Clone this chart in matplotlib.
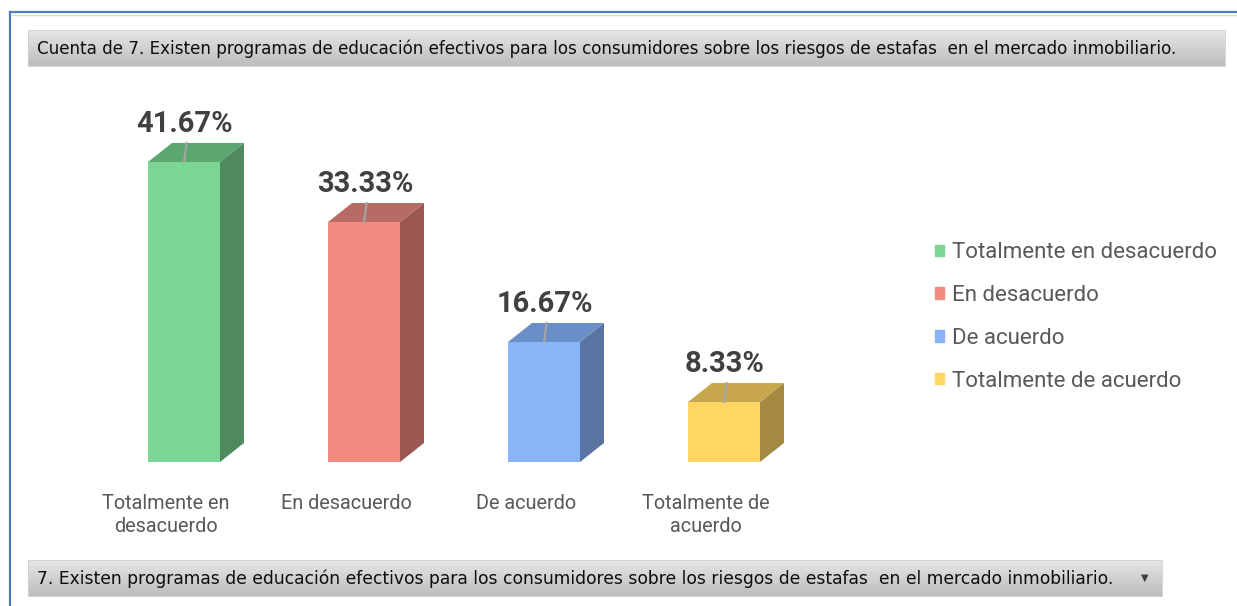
import numpy as np
import matplotlib
matplotlib.use("Agg")
import matplotlib.pyplot as plt
from matplotlib.patches import Polygon, Patch, Rectangle

categories = ["Totalmente en desacuerdo", "En desacuerdo", "De acuerdo",
              "Totalmente de acuerdo"]
tick_labels = ["Totalmente en\ndesacuerdo", "En desacuerdo", "De acuerdo",
               "Totalmente de\nacuerdo"]
values = [41.67, 33.33, 16.67, 8.33]

front_colors = ["#7bd593", "#f28b82", "#8ab4f8", "#fdd663"]
side_colors = ["#4e8a5e", "#9b5752", "#5a74a2", "#a48a40"]
top_colors = ["#5ba76f", "#b66b65", "#6a8ec8", "#c7a64c"]

header_text = ("Cuenta de 7. Existen programas de educación efectivos para los "
               "consumidores sobre los riesgos de estafas  en el mercado inmobiliario.")
footer_text = ("7. Existen programas de educación efectivos para los consumidores "
               "sobre los riesgos de estafas  en el mercado inmobiliario.")

W, H = 1237, 606
fig = plt.figure(figsize=(W / 100, H / 100), dpi=100)

# background axes in pixel coordinates for the frame and the gray boxes
bg = fig.add_axes([0, 0, 1, 1])
bg.set_xlim(0, W)
bg.set_ylim(H, 0)
bg.axis("off")

bg.plot([10, W], [12, 12], color="#4a7ebb", lw=1.6)
bg.plot([10, 10], [12, H], color="#4a7ebb", lw=1.6)
bg.plot([12, W], [14.5, 14.5], color="#d9d9d9", lw=1)

grad = np.linspace(0, 1, 50).reshape(-1, 1)
cmap = matplotlib.colors.LinearSegmentedColormap.from_list("g", ["#e6e6e6", "#bdbdbd"])


def gray_box(x0, x1, y0, y1):
    bg.imshow(grad, cmap=cmap, aspect="auto", extent=(x0, x1, y1, y0), zorder=1)
    bg.add_patch(Rectangle((x0, y0), x1 - x0, y1 - y0, fill=False,
                           ec="#d0d0d0", lw=0.6, zorder=2))


gray_box(28, 1225, 30, 66)
gray_box(28, 1162, 560, 596)
bg.set_xlim(0, W)
bg.set_ylim(H, 0)

t1 = bg.text(37, 48.5, header_text, fontsize=13, color="#0d0d0d",
             va="center", ha="left", zorder=3)
t2 = bg.text(37, 578.5, footer_text, fontsize=13, color="#0d0d0d",
             va="center", ha="left", zorder=3)
bg.text(1145, 578, "\u25bc", fontsize=7, color="#404040", ha="center",
        va="center", zorder=3)

# fit the box texts to the widths seen in the picture
fig.canvas.draw()
r = fig.canvas.get_renderer()
for t, target in [(t1, 1140), (t2, 1076)]:
    w = t.get_window_extent(r).width
    t.set_fontsize(t.get_fontsize() * target / w)

# bar axes
ax = fig.add_axes([94 / W, (H - 462) / H, 720 / W, 360 / H])
ax.set_xlim(-0.5, 3.5)
ax.set_ylim(0, 50)
ax.axis("off")

x = np.arange(len(values))
bw = 0.4
dx = 24 / 180
dy = 19 / 7.2

ax.bar(x, values, width=bw, color=front_colors, zorder=3)
for xi, v, sc, tc in zip(x, values, side_colors, top_colors):
    r0 = xi + bw / 2
    l0 = xi - bw / 2
    ax.add_patch(Polygon([(r0, 0), (r0 + dx, dy), (r0 + dx, v + dy), (r0, v)],
                         closed=True, fc=sc, ec="none", zorder=2))
    ax.add_patch(Polygon([(l0, v), (l0 + dx, v + dy), (r0 + dx, v + dy), (r0, v)],
                         closed=True, fc=tc, ec="none", zorder=2))
    ax.plot([xi + 0.015, xi], [v + dy, v], color="#a6a6a6", lw=1.5, zorder=4)
    ax.text(xi + 0.005, v + dy + 2.7, f"{v:.2f}%", ha="center", va="center",
            fontsize=21, fontweight="bold", color="#404040", family="Roboto")

for xi, lab in zip(x, tick_labels):
    ax.text(xi - 0.1, -4.4, lab, ha="center", va="top", fontsize=14.3,
            color="#595959", family="Roboto", linespacing=1.3)

handles = [Patch(color=c) for c in front_colors]
fig.legend(handles, categories, loc="center left",
           bbox_to_anchor=(935 / W, 1 - 317 / H), frameon=False,
           borderpad=0, borderaxespad=0,
           handlelength=0.42, handleheight=0.42,
           handletextpad=0.35, labelspacing=0.98, labelcolor="#595959",
           prop={"family": "Roboto", "size": 16})

fig.savefig("out.png", dpi=100)
